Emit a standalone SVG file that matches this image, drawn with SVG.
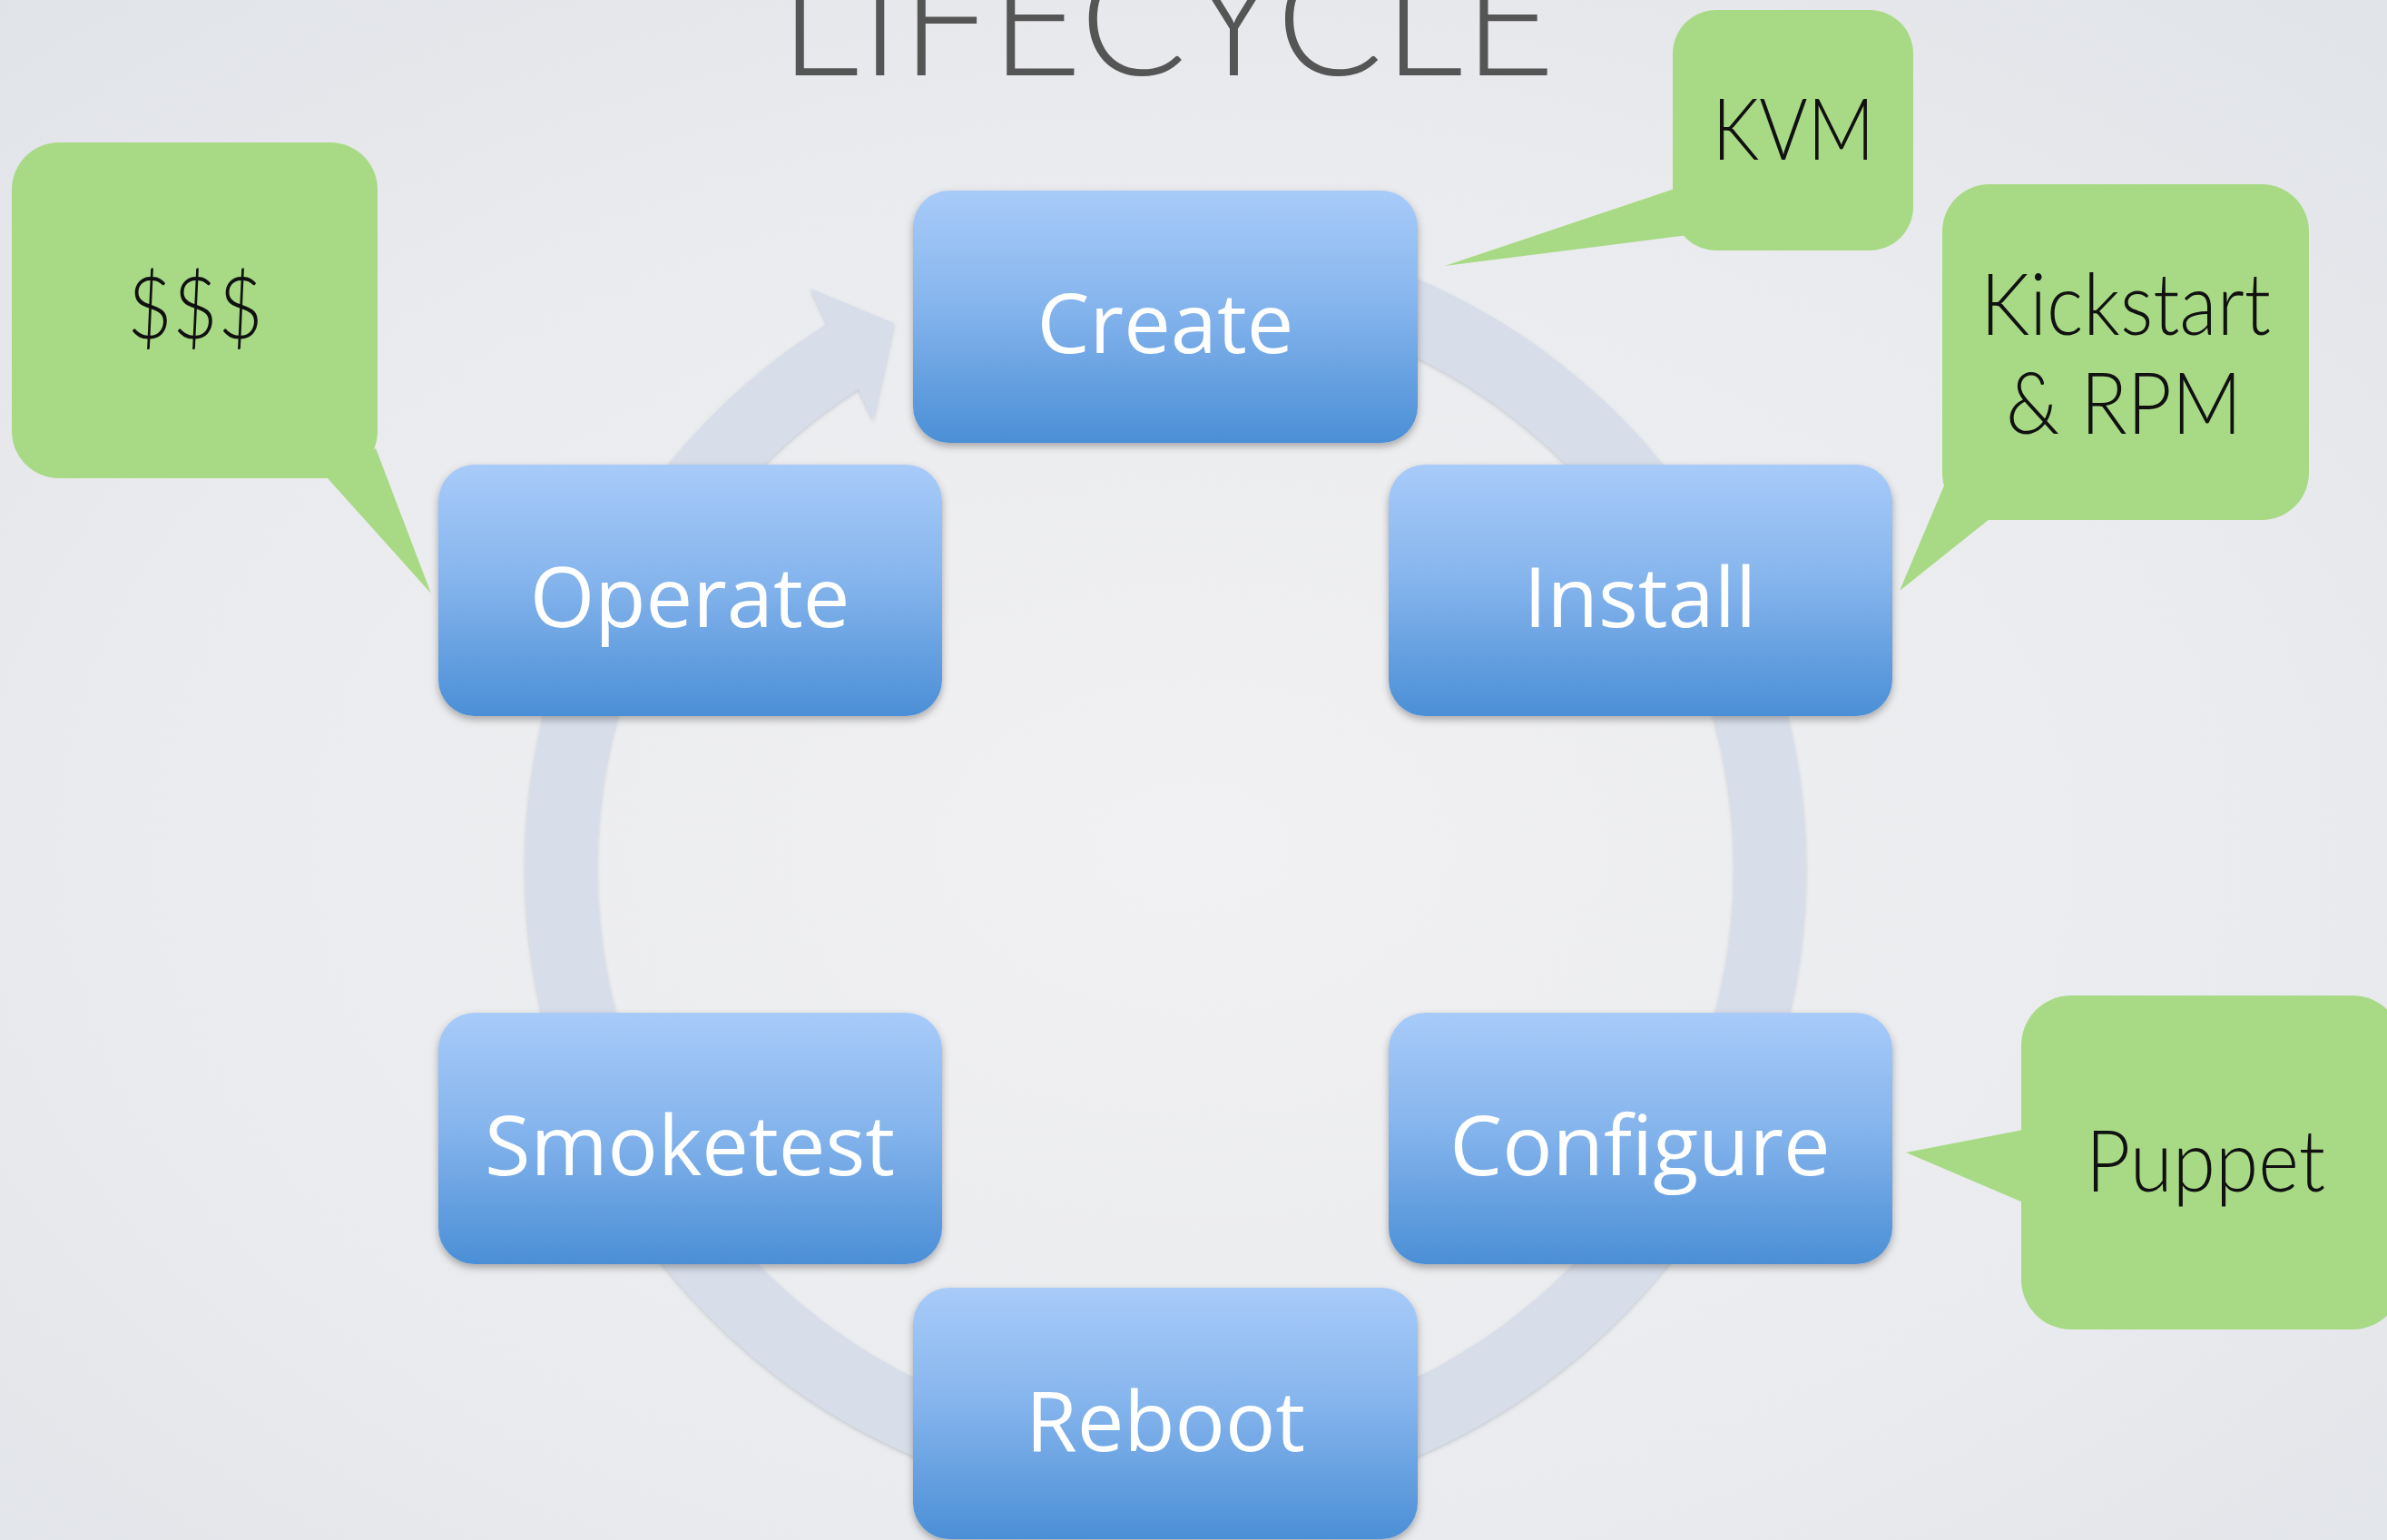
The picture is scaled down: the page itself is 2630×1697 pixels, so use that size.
<svg xmlns="http://www.w3.org/2000/svg" width="2630" height="1697" viewBox="0 0 2630 1697">
  <defs>
    <radialGradient id="bg" cx="0.5" cy="0.55" r="0.75">
      <stop offset="0" stop-color="#f1f1f3"/>
      <stop offset="0.6" stop-color="#eaebee"/>
      <stop offset="1" stop-color="#e0e3e8"/>
    </radialGradient>
    <linearGradient id="box" x1="0" y1="0" x2="0" y2="1">
      <stop offset="0" stop-color="#a8cbf9"/>
      <stop offset="0.45" stop-color="#86b5ed"/>
      <stop offset="1" stop-color="#4b8fd6"/>
    </linearGradient>
    <filter id="shadow" x="-10%" y="-10%" width="120%" height="130%">
      <feDropShadow dx="0" dy="4" stdDeviation="4" flood-color="#000" flood-opacity="0.3"/>
    </filter>
    <filter id="ringShadow" x="-10%" y="-10%" width="120%" height="120%">
      <feDropShadow dx="0" dy="2" stdDeviation="2" flood-color="#7a8494" flood-opacity="0.35"/>
    </filter>
  </defs>
  <style>
    .node rect { fill: url(#box); filter: url(#shadow); }
    .node text { font-family: "Open Sans", "Noto Sans", sans-serif; font-size: 92px; fill: #ffffff; text-anchor: middle; }
    .callout .shape { fill: #a8da86; }
    .callout text { font-family: Lato, "Open Sans", sans-serif; font-weight: 300; font-size: 94px; fill: #111111; text-anchor: middle; }
    .ring { fill: none; stroke: #d7deea; stroke-width: 79; }
    .ringhead { fill: #d7deea; }
    .title { font-family: Lato, "Open Sans", sans-serif; font-weight: 300; font-size: 175px; fill: #555555; text-anchor: middle; }
  </style>

  <rect x="0" y="0" width="2630" height="1697" fill="url(#bg)"/>

  <text class="title" x="1286" y="83" textLength="855" lengthAdjust="spacingAndGlyphs">LIFECYCLE</text>

  <g id="connectors" filter="url(#ringShadow)">
    <path class="ring" d="M 1226.0 292.5 A 666 666 0 1 1 936.0 388.2"/>
    <polygon class="ringhead" points="893,318 985,356 962,463"/>
  </g>

  <g id="node-create" class="node">
    <rect x="1006" y="210" width="556" height="278" rx="40"/>
    <text x="1284" y="389">Create</text>
  </g>
  <g id="node-install" class="node">
    <rect x="1530" y="512" width="555" height="277" rx="40"/>
    <text x="1807" y="691">Install</text>
  </g>
  <g id="node-configure" class="node">
    <rect x="1530" y="1116" width="555" height="277" rx="40"/>
    <text x="1807" y="1295">Configure</text>
  </g>
  <g id="node-reboot" class="node">
    <rect x="1006" y="1419" width="556" height="277" rx="40"/>
    <text x="1284" y="1599">Reboot</text>
  </g>
  <g id="node-smoketest" class="node">
    <rect x="483" y="1116" width="555" height="277" rx="40"/>
    <text x="760" y="1295">Smoketest</text>
  </g>
  <g id="node-operate" class="node">
    <rect x="483" y="512" width="555" height="277" rx="40"/>
    <text x="760" y="691">Operate</text>
  </g>

  <g id="callout-money" class="callout">
    <rect class="shape" x="13" y="157" width="403" height="370" rx="52"/>
    <polygon class="shape" points="360,526 475,654 414,494"/>
    <text x="215" y="373" textLength="150" lengthAdjust="spacingAndGlyphs">$$$</text>
  </g>
  <g id="callout-kvm" class="callout">
    <rect class="shape" x="1843" y="11" width="265" height="265" rx="48"/>
    <polygon class="shape" points="1845,208 1592,293 1860,259"/>
    <text x="1976" y="176" textLength="179" lengthAdjust="spacingAndGlyphs">KVM</text>
  </g>
  <g id="callout-kickstart" class="callout">
    <rect class="shape" x="2140" y="203" width="404" height="370" rx="52"/>
    <polygon class="shape" points="2142,535 2093,651 2192,572"/>
    <text x="2342" y="369" textLength="320" lengthAdjust="spacingAndGlyphs">Kickstart</text>
    <text x="2340" y="478" textLength="260" lengthAdjust="spacingAndGlyphs">&amp; RPM</text>
  </g>
  <g id="callout-puppet" class="callout">
    <rect class="shape" x="2227" y="1097" width="420" height="368" rx="55"/>
    <polygon class="shape" points="2229,1245 2100,1270 2229,1325"/>
    <text x="2430" y="1313" textLength="264" lengthAdjust="spacingAndGlyphs">Puppet</text>
  </g>
</svg>
